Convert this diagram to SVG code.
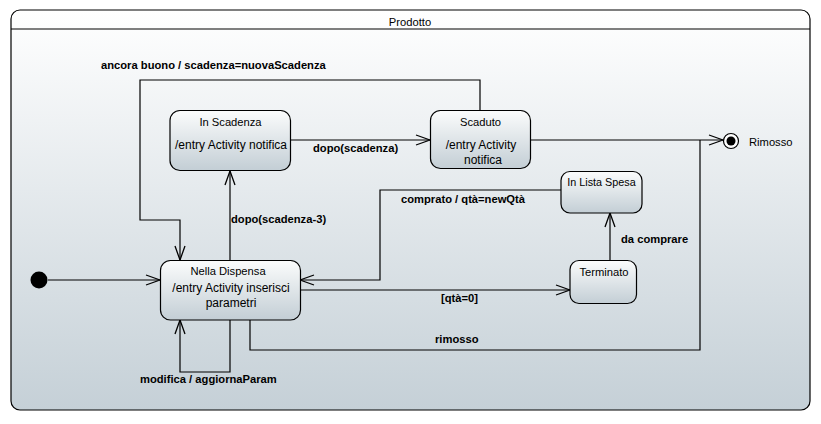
<svg xmlns="http://www.w3.org/2000/svg" width="821" height="424" viewBox="0 0 821 424">
<defs>
  <linearGradient id="gFrame" x1="0" y1="0" x2="0" y2="1">
    <stop offset="0" stop-color="#ffffff"/>
    <stop offset="1" stop-color="#c5d0d7"/>
  </linearGradient>
  <linearGradient id="gNode" x1="0" y1="0" x2="0" y2="1">
    <stop offset="0" stop-color="#fbfcfc"/>
    <stop offset="1" stop-color="#c3ced5"/>
  </linearGradient>
  <marker id="arr" viewBox="0 0 16 12" refX="15" refY="6" markerWidth="16" markerHeight="12" markerUnits="userSpaceOnUse" orient="auto">
    <path d="M1,1 L15,6 L1,11" fill="none" stroke="#000" stroke-width="1.3"/>
  </marker>
</defs>
<style>
  .node { fill: url(#gNode); stroke: #000; stroke-width: 1.2; }
  .t { font-family: "Liberation Sans", Arial, sans-serif; font-size: 12px; fill: #000; }
  .h { font-family: "Liberation Sans", Arial, sans-serif; font-size: 11.2px; fill: #000; }
  .c { text-anchor: middle; }
  .lbl { font-family: "Liberation Sans", Arial, sans-serif; font-size: 11.2px; font-weight: bold; fill: #000; }
  .edge { fill: none; stroke: #000; stroke-width: 1.2; }
</style>
<rect width="821" height="424" fill="#ffffff"/>
<g id="frame">
  <rect x="11" y="10" width="799" height="400" rx="9" ry="9" fill="url(#gFrame)" stroke="#000" stroke-width="1.2"/>
  <line x1="11" y1="29" x2="810" y2="29" stroke="#000" stroke-width="1.2"/>
  <text class="h c" x="410" y="26">Prodotto</text>
</g>
<g id="connectors">
  <path class="edge" d="M48,280 H160" marker-end="url(#arr)"/>
  <path class="edge" d="M230,260 V171" marker-end="url(#arr)"/>
  <path class="edge" d="M291,140 H430" marker-end="url(#arr)"/>
  <path class="edge" d="M480,111 V80 H140 V220 H180 V260" marker-end="url(#arr)"/>
  <path class="edge" d="M530,140 H723" marker-end="url(#arr)"/>
  <path class="edge" d="M250,320 V350 H700 V140"/>
  <path class="edge" d="M300,290 H570" marker-end="url(#arr)"/>
  <path class="edge" d="M610,260 V213" marker-end="url(#arr)"/>
  <path class="edge" d="M561,190 H380 V280 H300" marker-end="url(#arr)"/>
  <path class="edge" d="M230,320 V372 H180 V320" marker-end="url(#arr)"/>
  <text class="lbl" x="101" y="69">ancora buono / scadenza=nuovaScadenza</text>
  <text class="lbl" x="313" y="152">dopo(scadenza)</text>
  <text class="lbl" x="231" y="223">dopo(scadenza-3)</text>
  <text class="lbl" x="401" y="203">comprato / qtà=newQtà</text>
  <text class="lbl" x="441" y="302">[qtà=0]</text>
  <text class="lbl" x="435" y="343">rimosso</text>
  <text class="lbl" x="621" y="243">da comprare</text>
  <text class="lbl" x="140" y="383">modifica / aggiornaParam</text>
</g>
<g id="initial">
  <circle cx="39" cy="280" r="8.5" fill="#000"/>
</g>
<g id="final">
  <circle cx="731" cy="141" r="7.5" fill="#ffffff" stroke="#000" stroke-width="1.2"/>
  <circle cx="731" cy="141" r="4.5" fill="#000"/>
  <text class="h" x="749" y="146">Rimosso</text>
</g>
<g id="inScadenza">
  <rect class="node" x="170" y="110.5" width="120.5" height="60" rx="10"/>
  <text class="h c" x="230.5" y="126">In Scadenza</text>
  <text class="t c" x="231" y="149">/entry Activity notifica</text>
</g>
<g id="scaduto">
  <rect class="node" x="430.5" y="110.5" width="100" height="58" rx="10"/>
  <text class="h c" x="480.5" y="126">Scaduto</text>
  <text class="t c" x="481" y="149">/entry Activity</text>
  <text class="t c" x="483" y="164">notifica</text>
</g>
<g id="inListaSpesa">
  <rect class="node" x="561" y="171.5" width="81" height="41.5" rx="9"/>
  <text class="h c" x="601.5" y="186" style="font-size:10.8px">In Lista Spesa</text>
</g>
<g id="terminato">
  <rect class="node" x="570" y="260.5" width="66.5" height="43" rx="9"/>
  <text class="h c" x="604" y="276">Terminato</text>
</g>
<g id="nellaDispensa">
  <rect class="node" x="160.5" y="260.5" width="140" height="59.5" rx="10"/>
  <text class="h c" x="228" y="275">Nella Dispensa</text>
  <text class="t c" x="231" y="292">/entry Activity inserisci</text>
  <text class="t c" x="231" y="307">parametri</text>
</g>
</svg>
